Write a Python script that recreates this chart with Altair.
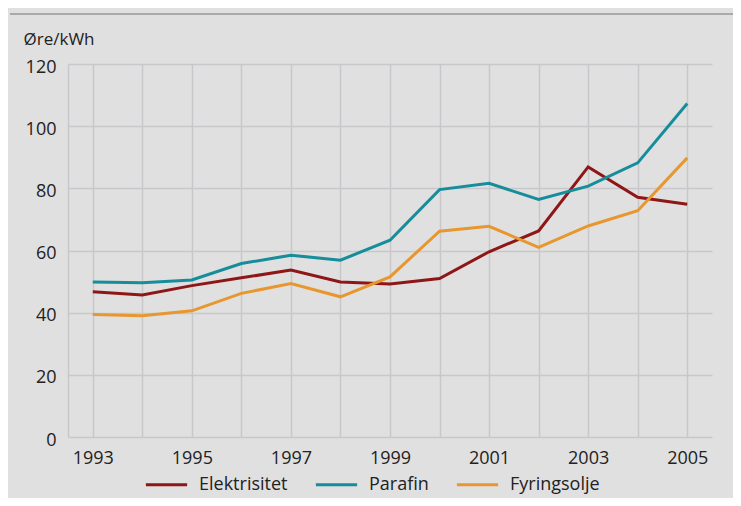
import altair as alt
import pandas as pd

years = list(range(1993, 2006))
elektrisitet = [46.7, 45.7, 48.7, 51.2, 53.7, 49.9, 49.2, 51.0, 59.6, 66.3, 86.9, 77.1, 74.9]
parafin = [49.9, 49.6, 50.5, 55.8, 58.5, 56.9, 63.3, 79.6, 81.6, 76.4, 80.7, 88.2, 107.3]
fyringsolje = [39.4, 39.0, 40.6, 46.2, 49.4, 45.1, 51.5, 66.2, 67.8, 61.0, 67.9, 72.8, 89.8]

series = ["Elektrisitet", "Parafin", "Fyringsolje"]
colors = ["#8e1616", "#168d9b", "#e8972f"]

rows = []
for name, vals in zip(series, [elektrisitet, parafin, fyringsolje]):
    for y, v in zip(years, vals):
        rows.append({"År": y, "Pris": v, "Serie": name})
df = pd.DataFrame(rows)

FONT = "Open Sans"
GRID = "#c7c7cc"

lines = alt.Chart(df).mark_line(strokeWidth=3).encode(
    x=alt.X("År:Q",
            scale=alt.Scale(domain=[1992.5, 2005.5], nice=False, zero=False),
            axis=alt.Axis(values=years, format="d",
                          labelExpr="datum.value % 2 == 1 ? datum.label : ''",
                          grid=True, gridColor=GRID, gridWidth=1.5,
                          domain=False, ticks=False, labelPadding=12,
                          labelFontSize=18, labelColor="#222222", labelFont=FONT,
                          title=None)),
    y=alt.Y("Pris:Q",
            scale=alt.Scale(domain=[0, 120], nice=False),
            axis=alt.Axis(values=[0, 20, 40, 60, 80, 100, 120],
                          grid=True, gridColor=GRID, gridWidth=1.5,
                          domain=True, domainColor=GRID, domainWidth=1.5,
                          ticks=False, labelPadding=12, labelOffset=3,
                          labelFontSize=18, labelColor="#222222", labelFont=FONT,
                          title="Øre/kWh", titleAngle=0, titleAlign="left",
                          titleBaseline="alphabetic", titleX=-45, titleY=-20,
                          titleFont=FONT, titleFontSize=17, titleFontWeight="normal",
                          titleColor="#222222")),
    color=alt.Color("Serie:N",
                    scale=alt.Scale(domain=series, range=colors),
                    sort=series,
                    legend=alt.Legend(orient="none", direction="horizontal",
                                      legendX=76, legendY=398, title=None,
                                      symbolType="stroke", symbolStrokeWidth=3,
                                      symbolSize=1700, columnPadding=21,
                                      labelFont=FONT, labelFontSize=18,
                                      labelColor="#222222", labelOffset=10,
                                      padding=0)),
)

sep = alt.Chart(pd.DataFrame({"a": [0]})).mark_rule(
    color="#a9a9a9", strokeWidth=2
).encode(x=alt.value(-58), x2=alt.value(665), y=alt.value(-50))

chart = alt.layer(sep, lines).properties(
    width=644, height=373,
    autosize=alt.AutoSizeParams(type="none"),
    padding={"left": 60, "top": 56, "right": 21, "bottom": 61},
).configure(background="#e0e0e0").configure_view(stroke=None)

chart.save("out.html", embed_options={"renderer": "svg", "actions": False})
